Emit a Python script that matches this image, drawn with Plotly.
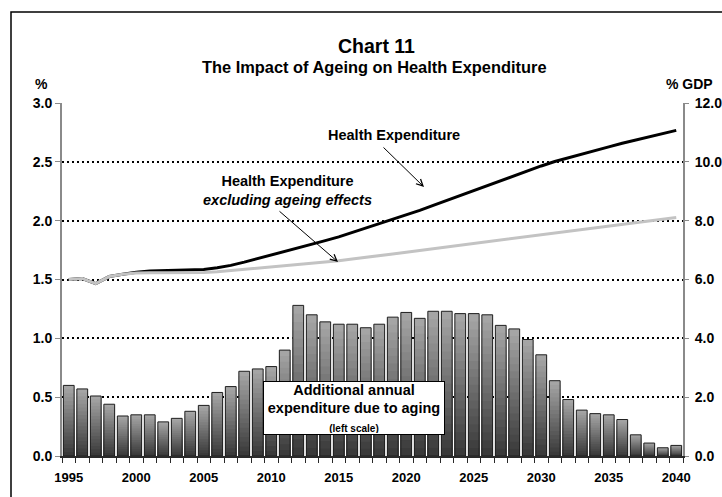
import numpy as np
import plotly.graph_objects as go

# ---- data -------------------------------------------------------------
years = list(range(1995, 2041))

# additional annual expenditure due to ageing (left scale, %)
aging_extra = [0.60, 0.57, 0.51, 0.44, 0.34, 0.35, 0.35, 0.29, 0.32, 0.38,
               0.43, 0.54, 0.59, 0.72, 0.74, 0.76, 0.90, 1.28, 1.20, 1.14,
               1.12, 1.12, 1.09, 1.12, 1.18, 1.22, 1.17, 1.23, 1.23, 1.21,
               1.21, 1.20, 1.11, 1.08, 0.99, 0.86, 0.64, 0.48, 0.39, 0.36,
               0.35, 0.31, 0.18, 0.11, 0.07, 0.09]

# health expenditure, % GDP (right scale)
health_exp = [6.00, 6.03, 5.86, 6.10, 6.18, 6.25, 6.29, 6.30, 6.31, 6.32,
              6.34, 6.40, 6.48, 6.59, 6.71, 6.82, 6.94, 7.06, 7.19, 7.32,
              7.45, 7.60, 7.74, 7.89, 8.03, 8.18, 8.35, 8.52, 8.69, 8.86,
              9.03, 9.20, 9.37, 9.53, 9.70, 9.86, 10.01, 10.14, 10.27, 10.39,
              10.51, 10.63, 10.74, 10.85, 10.96, 11.07]

# health expenditure excluding ageing effects, % GDP (right scale)
health_exp_ex_aging = [6.00, 6.03, 5.86, 6.10, 6.18, 6.22, 6.23, 6.23, 6.23, 6.23,
                       6.24, 6.26, 6.30, 6.34, 6.39, 6.43, 6.47, 6.51, 6.55, 6.59,
                       6.64, 6.70, 6.75, 6.81, 6.87, 6.93, 6.99, 7.05, 7.10, 7.16,
                       7.22, 7.28, 7.34, 7.40, 7.46, 7.52, 7.58, 7.64, 7.70, 7.75,
                       7.81, 7.87, 7.93, 7.99, 8.05, 8.11]

year_ticks = [1995, 2000, 2005, 2010, 2015, 2020, 2025, 2030, 2035, 2040]
left_ticks = [0.0, 0.5, 1.0, 1.5, 2.0, 2.5, 3.0]
left_tick_text = ["0.0", "0.5", "1.0", "1.5", "2.0", "2.5", "3.0"]
right_ticks = [0.0, 2.0, 4.0, 6.0, 8.0, 10.0, 12.0]
right_tick_text = ["0.0", "2.0", "4.0", "6.0", "8.0", "10.0", "12.0"]

# ---- page geometry ----------------------------------------------------
W, H = 722, 497
L, R, T, B = 62, 683, 103, 456   # plot-area edges in pixels
PW, PH = R - L, B - T


def px(x, y):
    """pixel position -> paper coordinates"""
    return (x - L) / PW, (B - y) / PH


FONT = "Liberation Sans, Arial, sans-serif"

fig = go.Figure()

# bars: stack of shrinking overlays gives a dark-bottom / light-top gradient
vals = np.array(aging_extra)
N = 18
dark, light = 58, 165
for i in range(N):
    frac = 1 - i / N
    g = int(round(light - (light - dark) * (i / (N - 1))))
    fig.add_trace(go.Bar(
        x=years, y=vals * frac, base=0,
        marker=dict(color=f"rgb({g},{g},{g})", line=dict(width=0)),
        width=0.8, hoverinfo="skip", showlegend=False))
# bar outlines
fig.add_trace(go.Bar(
    x=years, y=vals, base=0,
    marker=dict(color="rgba(0,0,0,0)", line=dict(color="#1e1e1e", width=1)),
    width=0.8, showlegend=False, name="Additional annual expenditure"))

# lines on the right-hand scale
fig.add_trace(go.Scatter(
    x=years, y=health_exp, yaxis="y2", mode="lines",
    line=dict(color="black", width=3), showlegend=False,
    name="Health Expenditure"))
fig.add_trace(go.Scatter(
    x=years, y=health_exp_ex_aging, yaxis="y2", mode="lines",
    line=dict(color="#c3c3c3", width=3), showlegend=False,
    name="Health Expenditure excluding ageing effects"))

annotations = []


def text_at(x, y, text, size, **kw):
    xp, yp = px(x, y)
    d = dict(xref="paper", yref="paper", x=xp, y=yp, text=text,
             showarrow=False, xanchor="center", yanchor="middle",
             font=dict(family=FONT, size=size, color="black", weight="bold"))
    d.update(kw)
    annotations.append(d)


def arrow(tail, head):
    hx, hy = px(*head)
    annotations.append(dict(
        xref="paper", yref="paper", x=hx, y=hy, text="",
        showarrow=True, arrowhead=5, arrowsize=1.3, arrowwidth=1,
        arrowcolor="black", ax=tail[0] - head[0], ay=tail[1] - head[1],
        standoff=0, startstandoff=0))


text_at(376, 46, "Chart 11", 19.5)
text_at(374, 67, "The Impact of Ageing on Health Expenditure", 16.4)
text_at(41, 84, "%", 14)
text_at(689, 84, "% GDP", 14)

text_at(394, 135, "Health Expenditure", 14.5)
arrow((382, 146), (424, 187))

text_at(287, 190, "Health Expenditure<br><i>excluding ageing effects</i>", 14.5)
arrow((278, 210), (338, 262))

bx, by = px(354, 407.5)
annotations.append(dict(
    xref="paper", yref="paper", x=bx, y=by, xanchor="center", yanchor="middle",
    text="Additional annual<br>expenditure due to aging<br>"
         "<span style='font-size:10px'>(left scale)</span>",
    showarrow=False, bgcolor="white", bordercolor="black", borderwidth=1,
    borderpad=1, width=178, height=50, align="center",
    font=dict(family=FONT, size=14.5, color="black", weight="bold")))

# outer frame (runs off the right and bottom of the page)
fx0, fy0 = px(11, 505)
fx1, fy1 = px(735, 12)
shapes = [dict(type="rect", xref="paper", yref="paper",
               x0=fx0, y0=fy0, x1=fx1, y1=fy1,
               line=dict(color="black", width=1.5), layer="below")]

xtickfont = dict(family=FONT, size=13, color="black", weight="bold")
ytickfont = dict(family=FONT, size=14, color="black", weight="bold")

fig.update_layout(
    width=W, height=H,
    margin=dict(l=L, r=W - R, t=T, b=H - B, autoexpand=False),
    paper_bgcolor="white", plot_bgcolor="white",
    barmode="overlay", bargap=0.2,
    showlegend=False,
    annotations=annotations, shapes=shapes,
    xaxis=dict(
        range=[1994.5, 2040.5], tickvals=year_ticks,
        ticktext=[str(y) for y in year_ticks], automargin=False,
        ticks="", showgrid=False, zeroline=False,
        showline=True, linecolor="#2a2a2a", linewidth=2,
        tickfont=xtickfont, ticklabelstandoff=8,
        minor=dict(ticks="outside", tick0=1994.5, dtick=1, ticklen=5,
                   tickcolor="#2a2a2a", tickwidth=1, showgrid=False)),
    yaxis=dict(
        range=[0, 3], tickvals=left_ticks, ticktext=left_tick_text,
        automargin=False,
        showgrid=True, gridcolor="black", gridwidth=2, griddash="2px,3px",
        zeroline=False, showline=True, linecolor="#8a8a8a", linewidth=2,
        ticks="outside", ticklen=5, tickcolor="#8a8a8a", tickwidth=1,
        tickfont=ytickfont, ticklabelstandoff=0),
    yaxis2=dict(
        range=[0, 12], tickvals=right_ticks, ticktext=right_tick_text,
        automargin=False,
        overlaying="y", side="right", showgrid=False, zeroline=False,
        showline=True, linecolor="#8a8a8a", linewidth=2,
        ticks="outside", ticklen=4, tickcolor="#8a8a8a", tickwidth=1,
        tickfont=ytickfont, ticklabelstandoff=3),
)

fig.write_html("out.html")
